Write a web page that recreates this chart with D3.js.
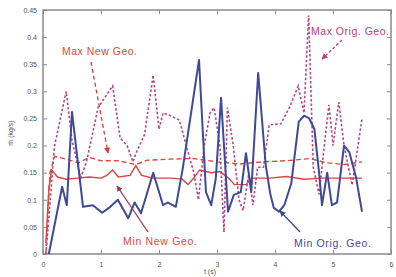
<!DOCTYPE html>
<html>
<head>
<meta charset="utf-8">
<script src="https://cdn.jsdelivr.net/npm/d3@7"></script>
<style>
  body { margin: 0; background: #fff; }
  text { font-family: "Liberation Sans", Arial, sans-serif; }
</style>
</head>
<body>
<div id="chart"></div>
<script>
// data
const minOrigT = [0.1,0.33,0.41,0.5,0.69,0.86,1.02,1.16,1.29,1.47,1.58,1.69,1.9,2.07,2.15,2.29,2.41,2.69,2.81,2.9,2.98,3.07,3.19,3.29,3.41,3.5,3.59,3.71,3.84,3.92,3.98,4.07,4.16,4.28,4.41,4.5,4.59,4.68,4.76,4.81,4.9,4.98,5.07,5.19,5.28,5.4,5.5];
const minOrigV = [0,0.124,0.09,0.262,0.087,0.09,0.076,0.087,0.1,0.066,0.095,0.075,0.15,0.09,0.095,0.087,0.158,0.358,0.114,0.09,0.14,0.288,0.078,0.109,0.114,0.186,0.114,0.334,0.164,0.11,0.085,0.078,0.09,0.13,0.244,0.255,0.25,0.23,0.15,0.09,0.15,0.09,0.095,0.2,0.188,0.14,0.078];

const maxOrigT = [0.05,0.2,0.3,0.4,0.5,0.65,0.75,0.95,1.2,1.33,1.45,1.55,1.62,1.75,1.9,2.0,2.07,2.2,2.35,2.47,2.6,2.68,2.78,2.88,2.95,3.05,3.12,3.18,3.28,3.38,3.45,3.55,3.62,3.7,3.8,3.9,4.1,4.25,4.4,4.5,4.58,4.66,4.76,4.85,4.93,5.0,5.1,5.19,5.33,5.5];
const maxOrigV = [0,0.2,0.25,0.3,0.21,0.14,0.17,0.27,0.31,0.214,0.2,0.17,0.19,0.22,0.33,0.23,0.26,0.255,0.247,0.2,0.15,0.1,0.2,0.26,0.27,0.2,0.04,0.27,0.2,0.1,0.08,0.15,0.09,0.16,0.16,0.238,0.24,0.27,0.31,0.26,0.44,0.16,0.11,0.2,0.275,0.2,0.28,0.2,0.127,0.25];

const maxNewT = [0.05,0.12,0.2,0.4,0.6,0.8,1.0,1.3,1.6,1.8,2.2,2.6,3.0,3.4,3.8,4.2,4.6,4.9,5.2,5.5];
const maxNewV = [0,0.15,0.18,0.175,0.168,0.178,0.172,0.172,0.165,0.173,0.175,0.176,0.17,0.166,0.17,0.172,0.176,0.168,0.165,0.17];

const minNewT = [0.05,0.1,0.15,0.25,0.4,0.6,0.8,1.0,1.1,1.2,1.3,1.5,1.6,1.7,1.9,2.2,2.4,2.5,2.6,2.7,2.9,3.05,3.2,3.3,3.5,3.6,3.9,4.2,4.5,4.8,5.1,5.5];
const minNewV = [0.02,0.12,0.155,0.142,0.138,0.14,0.142,0.14,0.145,0.155,0.142,0.145,0.163,0.145,0.14,0.14,0.138,0.128,0.14,0.155,0.15,0.152,0.14,0.128,0.128,0.14,0.14,0.143,0.138,0.14,0.14,0.14];

const xTicks = [0,1,2,3,4,5,6];
const yTicks = [0,0.05,0.1,0.15,0.2,0.25,0.3,0.35,0.4,0.45];

const W = 396, H = 277;
const plotLeft = 43, plotRight = 391, plotTop = 10, plotBottom = 254;

const svg = d3.select("#chart").append("svg")
    .attr("width", W).attr("height", H);

const x = d3.scaleLinear().domain([0, 6]).range([plotLeft, plotRight]);
const y = d3.scaleLinear().domain([0, 0.45]).range([plotBottom, plotTop]);

// arrow heads
const defs = svg.append("defs");
function marker(id, color) {
  defs.append("marker")
      .attr("id", id)
      .attr("viewBox", "0 0 10 10")
      .attr("refX", 9).attr("refY", 5)
      .attr("markerWidth", 6).attr("markerHeight", 6)
      .attr("markerUnits", "userSpaceOnUse")
      .attr("orient", "auto")
      .append("path")
      .attr("d", "M0,0 L10,5 L0,10 z")
      .attr("fill", color);
}
marker("arRed", "#d83a3a");
marker("arMag", "#b8407e");
marker("arBrown", "#9a3a4a");
marker("arBlue", "#3f4a8c");

const plot = svg.append("g");

// plot box with inward ticks
const axisColor = "#8a8a8a";
plot.append("rect")
    .attr("x", plotLeft).attr("y", plotTop)
    .attr("width", plotRight - plotLeft).attr("height", plotBottom - plotTop)
    .attr("fill", "none").attr("stroke", axisColor).attr("stroke-width", 1.5);

const xAxis = d3.axisBottom(x).tickValues(xTicks).tickSize(-4).tickPadding(8).tickFormat(d3.format("d"));
plot.append("g").attr("transform", `translate(0,${plotBottom})`).call(xAxis);
plot.append("g").attr("transform", `translate(0,${plotTop})`)
    .call(d3.axisTop(x).tickValues(xTicks).tickSize(-4).tickFormat(""));

const yAxis = d3.axisLeft(y).tickValues(yTicks).tickSize(-4).tickPadding(6).tickFormat(d => d === 0 ? "0" : String(d));
plot.append("g").attr("transform", `translate(${plotLeft},0)`).call(yAxis);
plot.append("g").attr("transform", `translate(${plotRight},0)`)
    .call(d3.axisRight(y).tickValues(yTicks).tickSize(-4).tickFormat(""));

plot.selectAll(".domain").remove();
plot.selectAll(".tick line").attr("stroke", axisColor);
plot.selectAll(".tick text").attr("fill", "#555").attr("font-size", 7);

// axis titles
svg.append("text")
    .attr("x", 210).attr("y", 274)
    .attr("text-anchor", "middle")
    .attr("font-size", 7).attr("fill", "#555")
    .text("t (s)");
svg.append("text")
    .attr("transform", "translate(13,133) rotate(-90)")
    .attr("text-anchor", "middle")
    .attr("font-size", 7).attr("fill", "#555")
    .text("ṁ (kg/s)");

// series
const line = d3.line().x(d => x(d[0])).y(d => y(d[1]));
const zip = (a, b) => a.map((t, i) => [t, b[i]]);

plot.append("path")
    .datum(zip(minNewT, minNewV))
    .attr("d", line)
    .attr("fill", "none").attr("stroke", "#e04040").attr("stroke-width", 1.4);

plot.append("path")
    .datum(zip(maxNewT, maxNewV))
    .attr("d", line)
    .attr("fill", "none").attr("stroke", "#e04a3a").attr("stroke-width", 1.4)
    .attr("stroke-dasharray", "5,3");

plot.append("path")
    .datum(zip(maxOrigT, maxOrigV))
    .attr("d", line)
    .attr("fill", "none").attr("stroke", "#b4468a").attr("stroke-width", 1.6)
    .attr("stroke-dasharray", "2.5,2");

plot.append("path")
    .datum(zip(minOrigT, minOrigV))
    .attr("d", line)
    .attr("fill", "none").attr("stroke", "#3f4a96").attr("stroke-width", 2)
    .attr("stroke-linejoin", "round");

// annotations
const notes = svg.append("g").attr("font-size", 10.5);

notes.append("text").attr("x", 62).attr("y", 55).attr("fill", "#e04a3a")
    .attr("textLength", 75).text("Max New Geo.");
notes.append("line").attr("x1", 91).attr("y1", 62).attr("x2", 108).attr("y2", 153)
    .attr("stroke", "#d83a3a").attr("stroke-width", 1.3).attr("stroke-dasharray", "4,3")
    .attr("marker-end", "url(#arRed)");

notes.append("text").attr("x", 311).attr("y", 35).attr("fill", "#b8407e")
    .attr("textLength", 78).text("Max Orig. Geo.");
notes.append("line").attr("x1", 342).attr("y1", 40).attr("x2", 322).attr("y2", 59)
    .attr("stroke", "#b8407e").attr("stroke-width", 1.3).attr("stroke-dasharray", "3,2")
    .attr("marker-end", "url(#arMag)");

notes.append("text").attr("x", 123).attr("y", 245).attr("fill", "#e04a3a")
    .attr("textLength", 74).text("Min New Geo.");
notes.append("line").attr("x1", 148).attr("y1", 232).attr("x2", 117).attr("y2", 186)
    .attr("stroke", "#9a3a4a").attr("stroke-width", 1.3)
    .attr("marker-end", "url(#arBrown)");

notes.append("text").attr("x", 294).attr("y", 247).attr("fill", "#3f4a96")
    .attr("textLength", 77).text("Min Orig. Geo.");
notes.append("line").attr("x1", 300).attr("y1", 232).attr("x2", 280).attr("y2", 211)
    .attr("stroke", "#3f4a8c").attr("stroke-width", 1.3)
    .attr("marker-end", "url(#arBlue)");
</script>
</body>
</html>
